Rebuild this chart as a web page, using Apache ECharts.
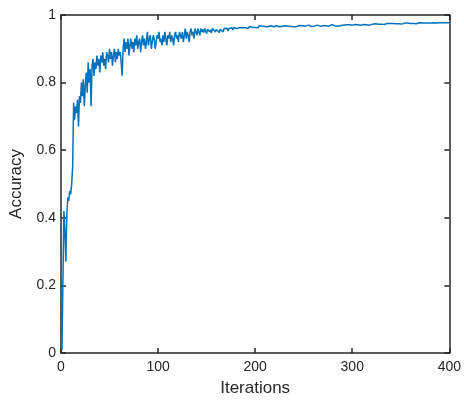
<!DOCTYPE html>
<html>
<head>
<meta charset="utf-8">
<script src="https://cdn.jsdelivr.net/npm/echarts@6/dist/echarts.min.js"></script>
<style>html,body{margin:0;padding:0;background:#fff}#c{width:464px;height:403px}</style>
</head>
<body>
<div id="c"></div>
<script>
const xTicks = [0, 100, 200, 300, 400];
const yTicks = [0, 0.2, 0.4, 0.6, 0.8, 1];
const acc001_040 = [0.01,0.22,0.42,0.36,0.27,0.41,0.46,0.45,0.48,0.47,0.50,0.55,0.74,0.69,0.73,0.71,0.75,0.67,0.76,0.74,
  0.80,0.76,0.81,0.73,0.79,0.83,0.77,0.86,0.80,0.84,0.73,0.85,0.87,0.82,0.86,0.84,0.88,0.85,0.87,0.83];
const acc041_080 = [0.88,0.86,0.89,0.85,0.87,0.84,0.89,0.88,0.86,0.90,0.87,0.89,0.85,0.88,0.90,0.86,0.89,0.87,0.90,0.88,
  0.89,0.86,0.82,0.90,0.93,0.89,0.92,0.90,0.93,0.88,0.91,0.93,0.90,0.92,0.89,0.93,0.91,0.94,0.90,0.92];
const acc081_120 = [0.93,0.89,0.92,0.94,0.91,0.93,0.90,0.92,0.95,0.91,0.93,0.94,0.90,0.92,0.94,0.93,0.90,0.92,0.94,0.93,
  0.95,0.92,0.93,0.91,0.94,0.92,0.95,0.93,0.91,0.94,0.93,0.95,0.92,0.94,0.93,0.91,0.94,0.95,0.93,0.94];
const acc121_160 = [0.92,0.95,0.94,0.93,0.95,0.92,0.94,0.96,0.93,0.95,0.94,0.92,0.95,0.96,0.94,0.95,0.93,0.96,0.95,0.94,
  0.96,0.95,0.94,0.96,0.95,0.957,0.948,0.96,0.952,0.945,0.958,0.962,0.95,0.956,0.947,0.96,0.955,0.962,0.95,0.957];
const acc161_200 = [0.962,0.955,0.948,0.958,0.963,0.956,0.95,0.96,0.964,0.957,0.961,0.953,0.96,0.965,0.958,0.962,0.956,0.963,0.959,0.965,
  0.96,0.964,0.957,0.962,0.966,0.96,0.963,0.958,0.965,0.962,0.967,0.963,0.96,0.966,0.962,0.968,0.964,0.961,0.966,0.963];
const acc201_240 = [0.967,0.964,0.962,0.968,0.965,0.963,0.967,0.964,0.969,0.966,0.963,0.968,0.965,0.967,0.963,0.968,0.966,0.969,0.965,0.967,
  0.964,0.968,0.966,0.969,0.965,0.968,0.962,0.967,0.969,0.966,0.968,0.965,0.969,0.967,0.964,0.968,0.966,0.969,0.967,0.965];
const acc241_280 = [0.968,0.97,0.966,0.968,0.965,0.969,0.967,0.97,0.968,0.966,0.969,0.967,0.965,0.968,0.97,0.967,0.969,0.966,0.968,0.97,
  0.967,0.969,0.966,0.97,0.968,0.971,0.967,0.969,0.97,0.968,0.966,0.97,0.968,0.971,0.969,0.967,0.97,0.968,0.971,0.969];
const acc281_320 = [0.97,0.968,0.971,0.969,0.967,0.97,0.972,0.969,0.971,0.968,0.97,0.972,0.969,0.971,0.97,0.968,0.971,0.969,0.972,0.97,
  0.971,0.969,0.972,0.97,0.973,0.971,0.969,0.972,0.97,0.973,0.971,0.972,0.97,0.973,0.971,0.974,0.972,0.97,0.973,0.975];
const acc321_360 = [0.973,0.974,0.972,0.974,0.973,0.975,0.973,0.972,0.974,0.973,0.975,0.974,0.972,0.974,0.973,0.975,0.974,0.973,0.975,0.974,
  0.973,0.975,0.974,0.976,0.974,0.973,0.975,0.974,0.976,0.975,0.973,0.975,0.974,0.976,0.975,0.974,0.976,0.975,0.973,0.975];
const acc361_400 = [0.976,0.974,0.975,0.977,0.975,0.974,0.976,0.975,0.977,0.976,0.974,0.976,0.975,0.977,0.976,0.978,0.975,0.976,0.977,0.975,
  0.976,0.977,0.975,0.977,0.976,0.978,0.976,0.977,0.975,0.977,0.976,0.978,0.977,0.976,0.978,0.977,0.976,0.978,0.977,0.977];

const accuracy = [].concat(acc001_040, acc041_080, acc081_120, acc121_160, acc161_200,
  acc201_240, acc241_280, acc281_320, acc321_360, acc361_400);
const points = accuracy.map((v, i) => [i + 1, v]);

const axisColor = '#262626';
const font = '"Liberation Sans", Arial, Helvetica, sans-serif';
const chart = echarts.init(document.getElementById('c'), null, {renderer: 'canvas'});
const baseX = {
  type: 'value', min: xTicks[0], max: xTicks[xTicks.length - 1], interval: 100,
  axisLine: {show: true, onZero: false, lineStyle: {color: axisColor, width: 1.5}},
  axisTick: {show: true, inside: true, length: 5, lineStyle: {color: axisColor, width: 1.5}},
  splitLine: {show: false}
};
const baseY = {
  type: 'value', min: yTicks[0], max: yTicks[yTicks.length - 1], interval: 0.2,
  axisLine: {show: true, onZero: false, lineStyle: {color: axisColor, width: 1.5}},
  axisTick: {show: true, inside: true, length: 5, lineStyle: {color: axisColor, width: 1.5}},
  splitLine: {show: false}
};
chart.setOption({
  animation: false,
  backgroundColor: '#ffffff',
  grid: {left: 61, right: 11, top: 15, bottom: 50, containLabel: false},
  xAxis: [
    Object.assign({}, baseX, {
      position: 'bottom',
      name: 'Iterations', nameLocation: 'middle', nameGap: 27,
      nameTextStyle: {color: axisColor, fontSize: 17, fontFamily: font},
      axisLabel: {color: axisColor, fontSize: 14, fontFamily: font, margin: 7, showMaxLabel: true}
    }),
    Object.assign({}, baseX, {position: 'top', axisLabel: {show: false}})
  ],
  yAxis: [
    Object.assign({}, baseY, {
      position: 'left',
      name: 'Accuracy', nameLocation: 'middle', nameGap: 36,
      nameTextStyle: {color: axisColor, fontSize: 17, fontFamily: font},
      axisLabel: {color: axisColor, fontSize: 14, fontFamily: font, margin: 5,
        formatter: v => String(Math.round(v * 10) / 10)}
    }),
    Object.assign({}, baseY, {position: 'right', axisLabel: {show: false}})
  ],
  series: [{
    type: 'line', xAxisIndex: 0, yAxisIndex: 0,
    data: points, showSymbol: false, symbol: 'none',
    lineStyle: {color: '#0072BD', width: 1.5},
    clip: true
  }]
});
</script>
</body>
</html>
